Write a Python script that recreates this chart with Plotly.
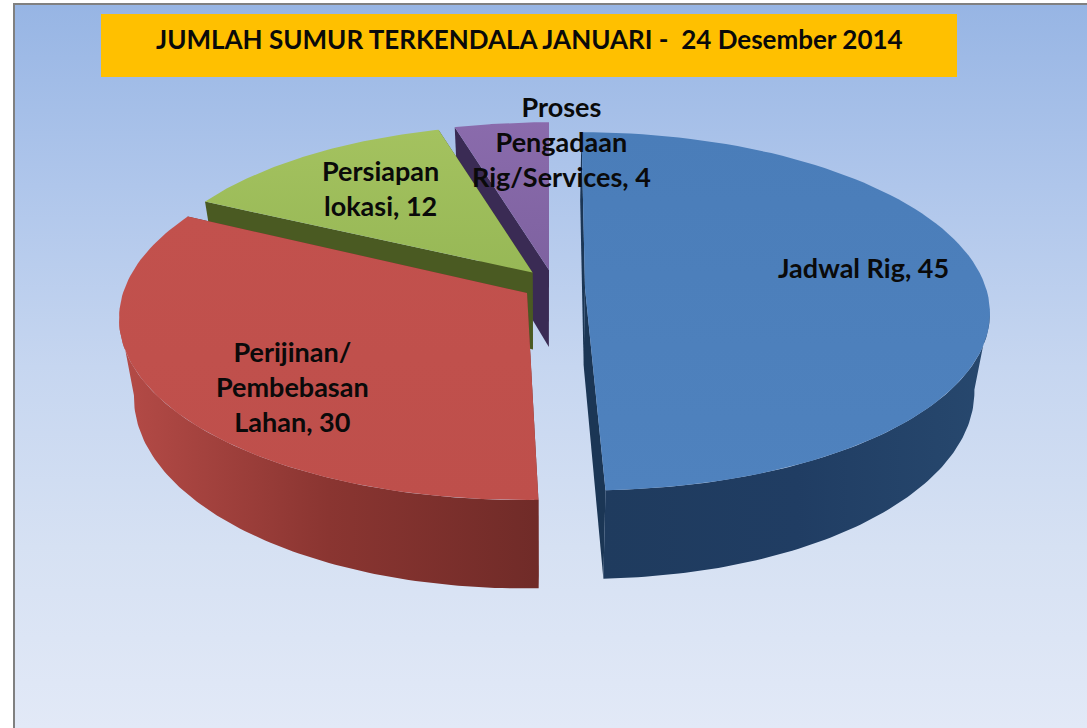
import math
import plotly.graph_objects as go

categories = ["Jadwal Rig", "Perijinan/<br>Pembebasan<br>Lahan", "Persiapan<br>lokasi", "Proses<br>Pengadaan<br>Rig/Services"]
values = [45, 30, 12, 4]
title_text = "JUMLAH SUMUR TERKENDALA JANUARI -  24 Desember 2014"

# per-slice layout of the tilted, exploded pie (pixel axes)
geometry = [
    dict(cx=585, cy=288, a=401, b=176, shear=4),
    dict(cx=527, cy=293, a=404, b=180, shear=-4),
    dict(cx=532.5, cy=272.5, a=388, b=167, shear=0),
    dict(cx=549, cy=270, a=389, b=167, shear=0),
]
top_colors = [["#4F82BE", "#4A7DB9"], ["#BE4F4B", "#C2514D"], ["#97B856", "#A4C25F"], ["#7E62A0", "#8A6BAC"]]
arc_colors = [["#1F3B5E", "#203D63", "#27486E"], ["#B54B47", "#8A3531", "#702B28"], ["#4A5A22", "#4A5A22"], ["#3A2B54", "#3A2B54"]]
cut_colors = ["#1B3655", "#752C29", "#4A5A22", "#3A2B54"]
label_pos = [(863, 267), (292, 386), (380, 188), (561, 141)]
PERSP = 0.13
DEPTH = 77
VANISH_X = 545
BASE_SHRINK = 0.965
WALL_FROM = math.radians(97.5)
WALL_TO = math.radians(262.5)


def project(g, t):
    u, v = math.sin(t), math.cos(t)
    s = 1 / (1 + PERSP * v)
    return g["cx"] + (g["a"] * u - g["shear"] * v) * s, g["cy"] - g["b"] * v * s, s


def base_x(x):
    return VANISH_X + (x - VANISH_X) * BASE_SHRINK


def scale(colors):
    n = len(colors) - 1
    return [[i / n, c] for i, c in enumerate(colors)]


def poly(xs, ys, colors, kind="horizontal"):
    return go.Scatter(
        x=xs + xs[:1], y=ys + ys[:1], mode="lines", fill="toself", line=dict(width=0),
        fillgradient=dict(type=kind, colorscale=scale(colors)), hoverinfo="skip", showlegend=False,
    )


fig = go.Figure()

# page background (the y axis is reversed, so stops run bottom to top)
bg_stops = ["#E2E9F7", "#D6E1F3", "#C6D6F0", "#AFC6EB", "#97B5E4"]
fig.add_trace(poly([15, 1087, 1087, 15], [5, 5, 728, 728], bg_stops, "vertical"))

total = sum(values)
angles = [0]
for val in values:
    angles.append(angles[-1] + val / total * 2 * math.pi)


def arc_points(g, t0, t1, n=90):
    return [project(g, t0 + (t1 - t0) * k / n) for k in range(n + 1)]


def slice_traces(i):
    g = geometry[i]
    t0, t1 = angles[i], angles[i + 1]
    pts = arc_points(g, t0, t1)
    ax, ay = g["cx"], g["cy"]
    out = []
    for (px, py, ps) in (pts[0], pts[-1]):
        out.append(poly([ax, px, base_x(px), base_x(ax)], [ay, py, py + DEPTH * ps, ay + DEPTH],
                        [cut_colors[i], cut_colors[i]]))
    w0, w1 = max(t0, WALL_FROM), min(t1, WALL_TO)
    if w1 > w0:
        wall = arc_points(g, w0, w1)
        rim_x = [p[0] for p in wall]
        rim_y = [p[1] for p in wall]
        low_x = [base_x(p[0]) for p in wall]
        low_y = [p[1] + DEPTH * p[2] for p in wall]
        out.append(poly(rim_x + low_x[::-1], rim_y + low_y[::-1], arc_colors[i]))
    out.append(poly([ax] + [p[0] for p in pts], [ay] + [p[1] for p in pts], top_colors[i], "vertical"))
    return out


# far slices first so that nearer ones overlap them
for i in [3, 2, 0, 1]:
    fig.add_traces(slice_traces(i))

shapes = [
    dict(type="rect", x0=101, x1=957, y0=14, y1=77, fillcolor="#FFC000", line=dict(width=0), layer="above"),
    dict(type="rect", x0=13, x1=15, y0=3, y1=728, fillcolor="#808080", line=dict(width=0), layer="above"),
    dict(type="rect", x0=13, x1=1087, y0=3, y1=5, fillcolor="#808080", line=dict(width=0), layer="above"),
]

annotations = [dict(x=529, y=39, text="<b>%s</b>" % title_text, showarrow=False, xanchor="center", yanchor="middle",
                    font=dict(family="Lato", size=26, color="#0A0A0A"))]
for cat, val, (lx, ly) in zip(categories, values, label_pos):
    annotations.append(dict(x=lx, y=ly, text="<b>%s, %d</b>" % (cat, val), showarrow=False, xanchor="center",
                            yanchor="middle", align="center", font=dict(family="Lato", size=27, color="#0A0A0A")))

fig.update_layout(
    width=1087, height=728, margin=dict(l=0, r=0, t=0, b=0), paper_bgcolor="white", plot_bgcolor="white",
    xaxis=dict(range=[0, 1087], visible=False, fixedrange=True),
    yaxis=dict(range=[728, 0], visible=False, fixedrange=True),
    shapes=shapes, annotations=annotations, showlegend=False,
)
fig.write_html("out.html", config=dict(displayModeBar=False),
               post_script="document.body.style.margin='0';document.body.style.overflow='hidden';")
